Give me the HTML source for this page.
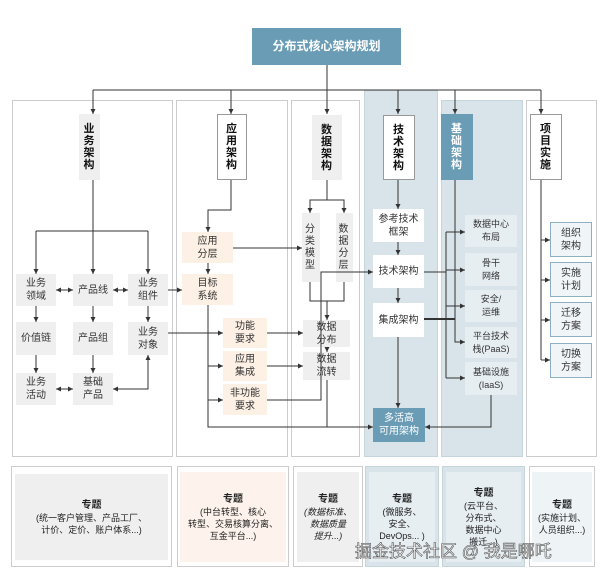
<!DOCTYPE html>
<html><head><meta charset="utf-8"><style>
body{margin:0;width:606px;height:578px;background:#fff;position:relative;overflow:hidden;font-family:"Liberation Sans","Noto Sans CJK SC",sans-serif;}
.a{position:absolute;box-sizing:border-box;}
.n{position:absolute;box-sizing:border-box;display:flex;align-items:center;justify-content:center;text-align:center;font-size:10px;line-height:13px;color:#333;}
.g{background:#efefef;}
.p{background:#fdf0e4;}
.w{background:#fff;}
.l{background:#e6eef2;}
.v{font-weight:bold;font-size:11px;line-height:12px;width:12px;word-break:break-all;color:#111;}
.h{position:absolute;box-sizing:border-box;display:flex;align-items:center;justify-content:center;}
.pj{background:#f0f5f8;border:1px solid #8fb0c2;}
.bt{font-size:9px;line-height:12px;color:#222;text-align:center;}
</style></head><body>
<div class="a" style="left:12px;top:100px;width:161px;height:357px;border:1px solid #ccc"></div>
<div class="a" style="left:176px;top:100px;width:112px;height:357px;border:1px solid #ccc"></div>
<div class="a" style="left:291px;top:100px;width:69px;height:357px;border:1px solid #ccc"></div>
<div class="a" style="left:364px;top:90px;width:74px;height:367px;background:#d8e4ea;border:1px solid #c6d4dc"></div>
<div class="a" style="left:441px;top:100px;width:82px;height:357px;background:#d8e4ea;border:1px solid #c6d4dc"></div>
<div class="a" style="left:526px;top:100px;width:71px;height:357px;border:1px solid #ccc"></div>
<div class="n" style="left:252px;top:28px;width:149px;height:37px;background:#6a9db5;color:#fff;font-weight:bold;font-size:12px">分布式核心架构规划</div>
<div class="h g" style="left:79px;top:114px;width:21px;height:66px"><div class="v">业务架构</div></div>
<div class="h w" style="left:217px;top:114px;width:30px;height:66px;border:1px solid #999"><div class="v">应用架构</div></div>
<div class="h g" style="left:312px;top:115px;width:30px;height:65px"><div class="v">数据架构</div></div>
<div class="h w" style="left:383px;top:115px;width:32px;height:65px;border:1px solid #999"><div class="v">技术架构</div></div>
<div class="h" style="left:441px;top:114px;width:32px;height:66px;background:#6a9db5"><div class="v" style="color:#fff">基础架构</div></div>
<div class="h w" style="left:530px;top:114px;width:32px;height:66px;border:1px solid #999"><div class="v">项目实施</div></div>
<div class="n g" style="left:16px;top:274px;width:40px;height:32px">业务<br>领域</div>
<div class="n g" style="left:73px;top:274px;width:40px;height:32px">产品线</div>
<div class="n g" style="left:128px;top:274px;width:40px;height:32px">业务<br>组件</div>
<div class="n g" style="left:16px;top:322px;width:40px;height:33px">价值链</div>
<div class="n g" style="left:73px;top:322px;width:40px;height:33px">产品组</div>
<div class="n g" style="left:128px;top:322px;width:40px;height:33px">业务<br>对象</div>
<div class="n g" style="left:16px;top:373px;width:40px;height:32px">业务<br>活动</div>
<div class="n g" style="left:73px;top:373px;width:40px;height:32px">基础<br>产品</div>
<div class="n p" style="left:182px;top:232px;width:51px;height:31px">应用<br>分层</div>
<div class="n p" style="left:182px;top:274px;width:51px;height:31px">目标<br>系统</div>
<div class="n p" style="left:223px;top:318px;width:44px;height:30px">功能<br>要求</div>
<div class="n p" style="left:223px;top:351px;width:44px;height:30px">应用<br>集成</div>
<div class="n p" style="left:223px;top:384px;width:44px;height:31px">非功能<br>要求</div>
<div class="h g" style="left:302px;top:213px;width:18px;height:69px"><div class="v" style="font-weight:normal;font-size:10px;color:#333">分类模型</div></div>
<div class="h g" style="left:336px;top:213px;width:17px;height:69px"><div class="v" style="font-weight:normal;font-size:10px;color:#333">数据分层</div></div>
<div class="n g" style="left:303px;top:320px;width:47px;height:27px">数据<br>分布</div>
<div class="n g" style="left:303px;top:352px;width:47px;height:28px">数据<br>流转</div>
<div class="n w" style="left:373px;top:209px;width:51px;height:33px">参考技术<br>框架</div>
<div class="n w" style="left:373px;top:255px;width:51px;height:33px">技术架构</div>
<div class="n w" style="left:373px;top:303px;width:51px;height:34px">集成架构</div>
<div class="n" style="left:373px;top:408px;width:52px;height:34px;background:#6a9db5;color:#fff">多活高<br>可用架构</div>
<div class="n l" style="left:465px;top:215px;width:52px;height:32px;font-size:9px">数据中心<br>布局</div>
<div class="n l" style="left:465px;top:253px;width:52px;height:33px;font-size:9px">骨干<br>网络</div>
<div class="n l" style="left:465px;top:290px;width:52px;height:32px;font-size:9px">安全/<br>运维</div>
<div class="n l" style="left:465px;top:327px;width:52px;height:31px;font-size:9px">平台技术<br>栈(PaaS)</div>
<div class="n l" style="left:465px;top:362px;width:52px;height:33px;font-size:9px">基础设施<br>(IaaS)</div>
<div class="n pj" style="left:550px;top:222px;width:42px;height:35px">组织<br>架构</div>
<div class="n pj" style="left:550px;top:262px;width:42px;height:35px">实施<br>计划</div>
<div class="n pj" style="left:550px;top:302px;width:42px;height:35px">迁移<br>方案</div>
<div class="n pj" style="left:550px;top:343px;width:42px;height:35px">切换<br>方案</div>

<svg class="a" style="left:0;top:0" width="606" height="578">
<defs><marker id="m" markerWidth="6" markerHeight="6" refX="5" refY="3" orient="auto-start-reverse" markerUnits="userSpaceOnUse"><path d="M0,0.5L5,3L0,5.5z" fill="#333"/></marker></defs>
<g stroke="#333" stroke-width="1" fill="none">
<path d="M327,65V90M93,90H541"/>
<path d="M36,231H148"/>
<path d="M310,282V301H344V282"/>
<g marker-end="url(#m)">
<path d="M93,90V114"/><path d="M231,90V114"/><path d="M327,90V114"/><path d="M398,90V114"/><path d="M455,90V114"/><path d="M541,90V114"/>
<path d="M93,180V274"/><path d="M36,231V274"/><path d="M148,231V274"/>
<path d="M36,306V322"/><path d="M93,306V322"/><path d="M148,306V322"/><path d="M36,355V373"/><path d="M93,355V373"/>
<path d="M168,290H182"/><path d="M168,333H223"/>
<path d="M231,180V210H208V232"/><path d="M208,263V274"/>
<path d="M233,248H302"/>
<path d="M208,305V427H373"/>
<path d="M208,366H223"/><path d="M208,400H223"/>
<path d="M267,333H303"/><path d="M267,366H303"/>
<path d="M267,400H321V272H373"/>
<path d="M327,180V200H310V213"/><path d="M327,200H344V213"/>
<path d="M327,301V320"/><path d="M327,347V352"/>
<path d="M398,180V209"/><path d="M398,242V255"/><path d="M398,288V303"/><path d="M398,337V408"/>
<path d="M446,232H465"/><path d="M446,270H465"/><path d="M446,306H465"/><path d="M446,378H465"/><path d="M455,180V342H465"/>
<path d="M491,395V427H425"/>
<path d="M541,240H550"/><path d="M541,280H550"/><path d="M541,320H550"/><path d="M541,360H550"/>
</g>
<g marker-start="url(#m)" marker-end="url(#m)">
<path d="M56,290H73"/><path d="M113,290H128"/><path d="M56,389H73"/><path d="M113,389H148V355"/>
</g>
<path d="M327,380V427"/>
<path d="M424,272H446M446,232V378"/>
<path d="M424,319H455" stroke-width="2"/>
<path d="M541,180V360"/>
</g></svg>

<div class="a" style="left:11px;top:466px;width:161px;height:101px;border:1px solid #ccc"></div>
<div class="n" style="left:15px;top:474px;width:153px;height:86px;background:#efefef"><div class="bt"><b style="font-size:10px">专题</b><br>(统一客户管理、产品工厂、<br>计价、定价、账户体系...)</div></div>
<div class="a" style="left:177px;top:466px;width:112px;height:101px;border:1px solid #ccc"></div>
<div class="n" style="left:180px;top:472px;width:106px;height:90px;background:#fdf3ec"><div class="bt"><b style="font-size:10px">专题</b><br>(中台转型、核心<br>转型、交易核算分离、<br>互金平台...)</div></div>
<div class="a" style="left:293px;top:466px;width:70px;height:101px;border:1px solid #ccc"></div>
<div class="n" style="left:297px;top:472px;width:62px;height:90px;background:#efefef"><div class="bt"><b style="font-size:10px">专题</b><br><i>(数据标准、<br>数据质量<br>提升...)</i></div></div>
<div class="a" style="left:365px;top:466px;width:74px;height:101px;border:1px solid #c6d4dc;background:#d8e4ea"></div>
<div class="n" style="left:369px;top:472px;width:66px;height:90px;background:#e6eef2"><div class="bt"><b style="font-size:10px">专题</b><br>(微服务、<br>安全、<br>DevOps... )</div></div>
<div class="a" style="left:442px;top:466px;width:83px;height:101px;border:1px solid #c6d4dc;background:#d8e4ea"></div>
<div class="n" style="left:446px;top:472px;width:75px;height:90px;background:#e6eef2"><div class="bt"><b style="font-size:10px">专题</b><br>(云平台、<br>分布式、<br>数据中心<br>搬迁...)</div></div>
<div class="a" style="left:529px;top:466px;width:66px;height:101px;border:1px solid #ccc"></div>
<div class="n" style="left:532px;top:472px;width:60px;height:90px;background:#eef3f6"><div class="bt"><b style="font-size:10px">专题</b><br>(实施计划、<br>人员组织...)</div></div>
<div class="a" style="left:355px;top:537px;font-size:17px;color:#fff;-webkit-text-stroke:0.6px #555;white-space:nowrap">掘金技术社区 @ 我是哪吒</div>
</body></html>
